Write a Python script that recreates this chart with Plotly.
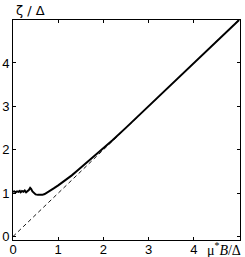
import plotly.graph_objects as go

# Solid curve: zeta/Delta vs mu*B/Delta
curve_x = [0.00, 0.03, 0.06, 0.09, 0.12, 0.15, 0.17, 0.20, 0.23, 0.26, 0.29, 0.32,
           0.35, 0.38, 0.40, 0.43, 0.46, 0.50, 0.55, 0.60, 0.65, 0.70, 0.80, 0.90,
           1.00, 1.10, 1.20, 1.30, 1.40, 1.50, 1.60, 1.70, 1.80, 2.00, 2.20, 2.50,
           3.00, 3.50, 4.00, 4.50, 5.00]
curve_y = [1.03, 1.04, 1.02, 1.04, 1.03, 1.05, 1.02, 1.05, 1.03, 1.06, 1.02, 1.04,
           1.07, 1.12, 1.10, 1.04, 1.00, 0.97, 0.96, 0.96, 0.96, 0.98, 1.04, 1.11,
           1.18, 1.25, 1.32, 1.41, 1.50, 1.59, 1.68, 1.77, 1.86, 2.03, 2.22, 2.51,
           3.01, 3.51, 4.01, 4.50, 4.99]

# Dashed asymptote zeta = mu*B
asym_x = [0.0, 5.0]
asym_y = [0.0, 5.0]

x_ticks = [0, 1, 2, 3, 4]
y_ticks = [0, 1, 2, 3, 4]

fig = go.Figure()
fig.add_trace(go.Scatter(x=asym_x, y=asym_y, mode="lines",
                         line=dict(color="black", width=0.9, dash="4px,3px"),
                         showlegend=False))
fig.add_trace(go.Scatter(x=curve_x, y=curve_y, mode="lines",
                         line=dict(color="black", width=2),
                         showlegend=False))

axis_common = dict(showgrid=False, zeroline=False, showline=True, linecolor="black",
                   linewidth=1, mirror="ticks", ticks="inside", ticklen=3,
                   tickcolor="black", automargin=False,
                   tickfont=dict(family="Liberation Sans", size=13, color="black"))

fig.update_xaxes(range=[0, 5.02], tickvals=x_ticks, ticktext=[str(v) for v in x_ticks],
                 ticklabelstandoff=-3, **axis_common)
fig.update_yaxes(range=[-0.08, 4.99], tickvals=y_ticks, ticktext=[str(v) for v in y_ticks],
                 ticklabelstandoff=0, **axis_common)

fig.add_annotation(text="ζ / Δ", xref="paper", yref="paper", x=0.0, y=1.0,
                   xanchor="left", yanchor="bottom", showarrow=False, yshift=0, xshift=1,
                   font=dict(family="DejaVu Sans", size=13, color="black"))
fig.add_annotation(text="μ<sup>*</sup><i>B</i>/Δ", xref="paper", yref="paper", x=1.0, y=0.0,
                   xanchor="right", yanchor="top", showarrow=False, yshift=2, xshift=3,
                   font=dict(family="Liberation Serif", size=14, color="black"))

fig.update_layout(width=245, height=257, margin=dict(l=13, r=5, t=20, b=17),
                  paper_bgcolor="white", plot_bgcolor="white")

fig.write_html("out.html", config={"displayModeBar": False},
               post_script="document.body.style.margin='0px';document.body.style.overflow='hidden';")
